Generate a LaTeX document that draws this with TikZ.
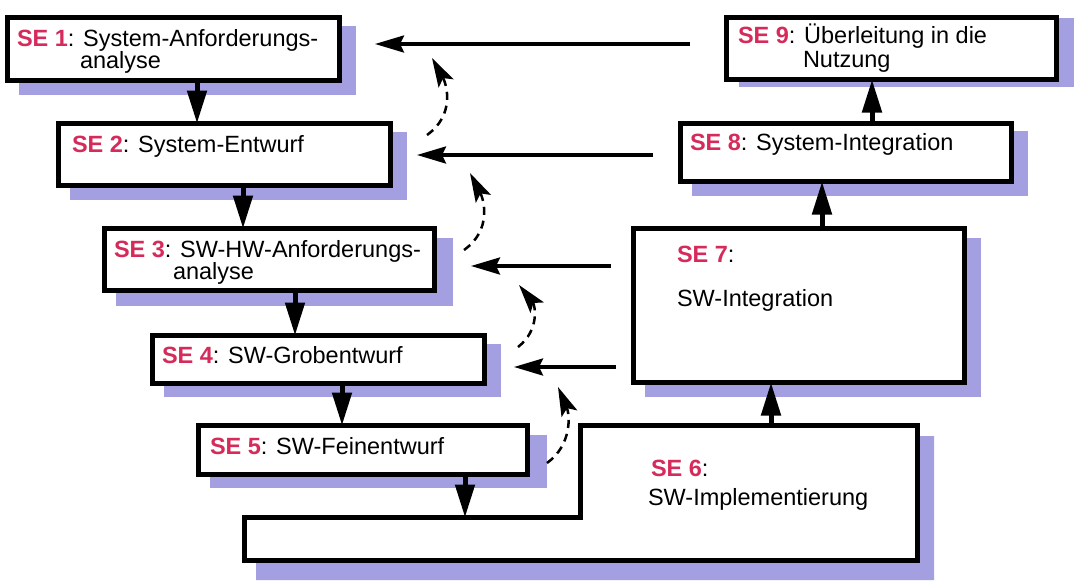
\documentclass[tikz,border=0pt]{standalone}
\usepackage{fontspec}
\setmainfont{Liberation Sans}
\usetikzlibrary{arrows.meta}
\definecolor{sered}{HTML}{D62A5A}
\definecolor{shade}{HTML}{A39FE0}
\tikzset{
  sebox/.style={draw=black, line width=5pt, fill=white, inner sep=0pt, outer sep=0pt},
  shadowfill/.style={fill=shade, draw=none},
  lbl/.style={anchor=base west, inner sep=0pt, outer sep=0pt, font=\fontsize{23.5}{23}\selectfont},
  flow/.style={line width=5pt, -{Triangle[width=19pt,length=33pt]}},
  back/.style={line width=3.3pt, -{Stealth[length=29pt,width=17pt,inset=4pt]}},
  retry/.style={line width=2.5pt, dash pattern=on 8pt off 6pt, -{Stealth[length=29pt,width=17pt,inset=6pt]}},
}
\newcommand{\seno}[1]{\textcolor{sered}{\textbf{SE #1}}}
\begin{document}
\begin{tikzpicture}[x=1pt,y=-1pt]
\useasboundingbox (0,0) rectangle (1082,587);
% shadows
\fill[shadowfill] (19,26) rectangle (356,95);
\fill[shadowfill] (70,132) rectangle (407,200);
\fill[shadowfill] (116,238) rectangle (453,306);
\fill[shadowfill] (164,344) rectangle (501,397);
\fill[shadowfill] (210,435) rectangle (547,488);
\fill[shadowfill] (256,530) -- (592,530) -- (592,436) -- (934,436) -- (934,580) -- (256,580) -- cycle;
\fill[shadowfill] (645,238) rectangle (981,397);
\fill[shadowfill] (692,131) rectangle (1028,196);
\fill[shadowfill] (739,18) rectangle (1074,87);
% boxes
\node[sebox, minimum width=332pt, minimum height=63pt] (box1) at (173.5,49) {};
\node[sebox, minimum width=332pt, minimum height=62pt] (box2) at (224.5,154.5) {};
\node[sebox, minimum width=330pt, minimum height=62pt] (box3) at (269.5,259.5) {};
\node[sebox, minimum width=332pt, minimum height=48pt] (box4) at (318.5,359.5) {};
\node[sebox, minimum width=329pt, minimum height=49pt] (box5) at (363,450) {};
\draw[line width=5pt, fill=white] (244.5,517.5) -- (580.5,517.5) -- (580.5,425.5) -- (917.5,425.5) -- (917.5,560.5) -- (244.5,560.5) -- cycle;
\coordinate (box6in) at (465,517.5);
\coordinate (box6out) at (771,425.5);
\node[sebox, minimum width=331pt, minimum height=154pt] (box7) at (799,305.5) {};
\node[sebox, minimum width=331pt, minimum height=58pt] (box8) at (846,152.5) {};
\node[sebox, minimum width=330pt, minimum height=62pt] (box9) at (891.5,48.5) {};
% labels
\node[lbl] (t1a) at (17,46) {\seno{1}: System-Anforderungs-};
\node[lbl] (t1b) at (80,68) {analyse};
\node[lbl] (t2) at (72,152) {\seno{2}: System-Entwurf};
\node[lbl] (t3a) at (114,257) {\seno{3}: SW-HW-Anforderungs-};
\node[lbl] (t3b) at (173,279) {analyse};
\node[lbl] (t4) at (162,363) {\seno{4}: SW-Grobentwurf};
\node[lbl] (t5) at (210,454) {\seno{5}: SW-Feinentwurf};
\node[lbl] (t6a) at (651,476) {\seno{6}:};
\node[lbl] (t6b) at (648,505) {SW-Implementierung};
\node[lbl] (t7a) at (677,262) {\seno{7}:};
\node[lbl] (t7b) at (677,306) {SW-Integration};
\node[lbl] (t8) at (690,150) {\seno{8}: System-Integration};
\node[lbl] (t9a) at (738,43) {\seno{9}: Überleitung in die};
\node[lbl] (t9b) at (803,67) {Nutzung};
% flow arrows
\draw[flow] ([xshift=23.5pt]box1.south) -- ([xshift=-27.5pt]box2.north);
\draw[flow] ([xshift=18.5pt]box2.south) -- ([xshift=-26.5pt]box3.north);
\draw[flow] ([xshift=25.5pt]box3.south) -- ([xshift=-23.5pt]box4.north);
\draw[flow] ([xshift=23.5pt]box4.south) -- ([xshift=-21pt]box5.north);
\draw[flow] ([xshift=102pt]box5.south) -- (box6in);
\draw[flow] (box6out) -- ([xshift=-28pt]box7.south);
\draw[flow] ([xshift=23pt]box7.north) -- ([xshift=-24pt]box8.south);
\draw[flow] ([xshift=26pt]box8.north) -- ([xshift=-19.5pt]box9.south);
% feedback arrows
\coordinate (h1s) at (690,44); \coordinate (h1e) at (375,44);
\coordinate (h2s) at (653,155); \coordinate (h2e) at (417,155);
\coordinate (h3s) at (611,266); \coordinate (h3e) at (471,266);
\coordinate (h4s) at (616,367); \coordinate (h4e) at (514,367);
\draw[back] (h1s) -- (h1e);
\draw[back] (h2s) -- (h2e);
\draw[back] (h3s) -- (h3e);
\draw[back] (h4s) -- (h4e);
% dashed retry arrows
\coordinate (d1s) at (427,135); \coordinate (d1e) at (432,58);
\coordinate (d2s) at (464,250); \coordinate (d2e) at (470,173);
\coordinate (d3s) at (518,347); \coordinate (d3e) at (519,285);
\coordinate (d4s) at (547,463); \coordinate (d4e) at (558,387);
\draw[retry] (d1s) .. controls (455,115) and (447,85) .. (d1e);
\draw[retry] (d2s) .. controls (492,230) and (484,200) .. (d2e);
\draw[retry] (d3s) .. controls (540,330) and (535,305) .. (d3e);
\draw[retry] (d4s) .. controls (572,445) and (570,415) .. (d4e);
\end{tikzpicture}
\end{document}
